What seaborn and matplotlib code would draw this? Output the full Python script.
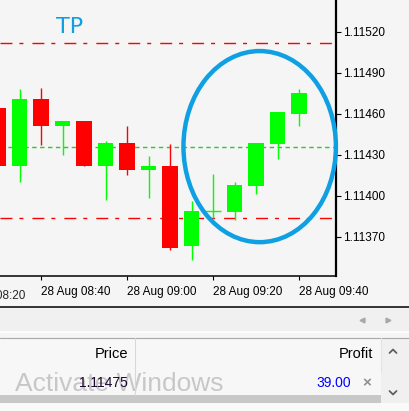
import matplotlib
matplotlib.use("Agg")
import numpy as np
import pandas as pd
import matplotlib.pyplot as plt
from matplotlib.patches import Ellipse, Rectangle
import seaborn as sns

# EURUSD M5 candles, 28 Aug
times = ["08:30", "08:35", "08:40", "08:45", "08:50", "08:55", "09:00",
         "09:05", "09:10", "09:15", "09:20", "09:25", "09:30", "09:35", "09:40"]
opens = [1.11464, 1.11422, 1.11471, 1.11451, 1.11455, 1.11422, 1.11439,
         1.11419, 1.11422, 1.11363, 1.11389, 1.11388, 1.11407, 1.11438, 1.11460]
highs = [1.11466, 1.11478, 1.11479, 1.11455, 1.11455, 1.11440, 1.11451,
         1.11429, 1.11438, 1.11396, 1.11416, 1.11410, 1.11439, 1.11461, 1.11478]
lows = [1.11420, 1.11410, 1.11437, 1.11430, 1.11422, 1.11397, 1.11415,
        1.11398, 1.11360, 1.11353, 1.11384, 1.11382, 1.11401, 1.11427, 1.11451]
closes = [1.11422, 1.11471, 1.11451, 1.11455, 1.11422, 1.11439, 1.11419,
          1.11422, 1.11362, 1.11389, 1.11389, 1.11408, 1.11439, 1.11461, 1.11475]

entry_price = 1.11436
tp_price = 1.11512
sl_price = 1.11384
price_ticks = [1.11370, 1.11400, 1.11430, 1.11460, 1.11490, 1.11520]
time_ticks = ["08:20", "08:40", "09:00", "09:20", "09:40"]
current_price = "1.11475"
profit = "39.00"

BG = "#f5f5f5"
UP = "#00ff00"
DOWN = "#ff0000"
BLUE = "#0ea0e2"

df = pd.DataFrame({"time": times, "open": opens, "high": highs,
                   "low": lows, "close": closes})
df["x"] = np.arange(len(df))
df["color"] = np.where(df["close"] >= df["open"], UP, DOWN)
df["bottom"] = df[["open", "close"]].min(axis=1)
df["body"] = (df["close"] - df["open"]).abs()


def to_min(t):
    h, m = t.split(":")
    return int(h) * 60 + int(m)


def time_to_x(t):
    return (to_min(t) - to_min(times[0])) / 5


sns.set_theme(style="white")
plt.rcParams["font.family"] = ["Liberation Sans", "DejaVu Sans"]
plt.rcParams["lines.scale_dashes"] = False

fig = plt.figure(figsize=(4.10, 4.11), dpi=100, facecolor=BG)

# terminal window chrome in pixel coordinates
ui = fig.add_axes([0, 0, 1, 1], zorder=0)
ui.set_xlim(0, 410)
ui.set_ylim(411, 0)
ui.axis("off")
ui.add_patch(Rectangle((0, 307), 410, 25, color="#f0f0f0", lw=0))
ui.plot([0, 410], [306.5, 306.5], color="#000000", lw=1.1)
ui.plot([0, 410], [332, 332], color="#ffffff", lw=1.2)
ui.plot([0, 410], [337.5, 337.5], color="#a8a8a8", lw=0.8)
ui.add_patch(Rectangle((0, 338), 381, 57, color="#f7f7f7", lw=0))
ui.add_patch(Rectangle((381, 338), 29, 66, color="#f0f0f0", lw=0))
ui.add_patch(Rectangle((0, 395), 381, 8, color="#c8c8c8", lw=0))
ui.add_patch(Rectangle((0, 403), 410, 8, color="#fafafa", lw=0))
ui.plot([135, 135], [338, 395], color="#d8d8d8", lw=0.8)
ui.plot([381, 381], [338, 372], color="#e4e4e4", lw=0.8)
ui.plot([362], [320], marker="<", color="#a8a8a8", ms=3.5)
ui.plot([388], [320], marker=">", color="#a8a8a8", ms=3.5)
ui.plot([389.5, 393, 396.5], [353, 349.5, 353], color="#606060", lw=1.3)
ui.plot([389.5, 393, 396.5], [391, 394.5, 391], color="#606060", lw=1.3)

ui.text(15, 384, "Activate Windows", fontsize=19, color="#b8b8b8",
        alpha=0.75, ha="left", va="center", zorder=1)
ui.text(128, 354, "Price", fontsize=10.5, color="#000000", ha="right", va="center")
ui.text(373, 354, "Profit", fontsize=10.5, color="#000000", ha="right", va="center")
ui.text(128, 383, current_price, fontsize=10, color="#1a0830", ha="right",
        va="center", zorder=2)
ui.text(351, 383, profit, fontsize=10, color="#0000ff", ha="right", va="center")
ui.text(367, 383, "\u00d7", fontsize=11, color="#909090", ha="center",
        va="center", fontweight="bold")

# price chart
ax = fig.add_axes([0, 1 - 276 / 411, 336 / 410, 276 / 411], zorder=1)
ax.set_facecolor(BG)

ax.vlines(df["x"], df["low"], df["high"], colors=df["color"], lw=1.0, zorder=2)
ax.bar(df["x"], df["body"], bottom=df["bottom"], width=0.7,
       color=df["color"], lw=0, zorder=3)
doji = df[df["body"] < 1e-6]
ax.hlines(doji["open"], doji["x"] - 0.35, doji["x"] + 0.35,
          colors=doji["color"], lw=1.0, zorder=3)

ax.axhline(entry_price, color="#20d020", lw=1.0, ls=(0, (3.2, 2.5)), zorder=1)
ax.axhline(tp_price, color="#ff0000", lw=1.0,
           ls=(0, (8.6, 5.0, 2.9, 6.5)), zorder=1)
ax.axhline(sl_price, color="#ff0000", lw=1.0,
           ls=(0, (8.6, 5.0, 2.9, 6.5)), zorder=1)

ax.text(2.72, 1.115195, "TP", fontsize=16, color=BLUE,
        family="DejaVu Sans", ha="left", va="baseline")

ax.add_patch(Ellipse((12.17, entry_price), 7.09, 0.0014, fill=False,
                     ec=BLUE, lw=3.2, clip_on=False, zorder=10))

ax.set_xlim(0.093, 15.72)
ax.set_ylim(1.113412, 1.115434)

sns.despine(ax=ax, left=True, top=True, right=False, bottom=False)
for side in ["right", "bottom"]:
    ax.spines[side].set_color("#000000")
ax.spines["right"].set_linewidth(1.6)
ax.spines["bottom"].set_linewidth(1.1)

ax.set_yticks(price_ticks)
ax.set_yticklabels([f"{p:.5f}" for p in price_ticks])
ax.tick_params(axis="y", left=False, right=True, labelleft=False,
               labelright=True, length=3.6, width=0.8, pad=1.5,
               labelsize=8.5, colors="#000000")

tick_x = [time_to_x(t) for t in time_ticks]
ax.set_xticks(tick_x[1:])
ax.set_xticklabels([f"28 Aug {t}" for t in time_ticks[1:]])
ax.tick_params(axis="x", bottom=True, length=3, width=0.8, pad=4,
               labelsize=8.5, colors="#000000")
plt.setp(ax.get_xticklabels(), ha="left")
# first label sits left of the visible window
ax.text(tick_x[0] + 0.05, -0.05, f"28 Aug {time_ticks[0]}", fontsize=8.5,
        ha="left", va="top", transform=ax.get_xaxis_transform(), clip_on=False)
ax.grid(False)

fig.savefig("out.png", dpi=100, facecolor=BG)
